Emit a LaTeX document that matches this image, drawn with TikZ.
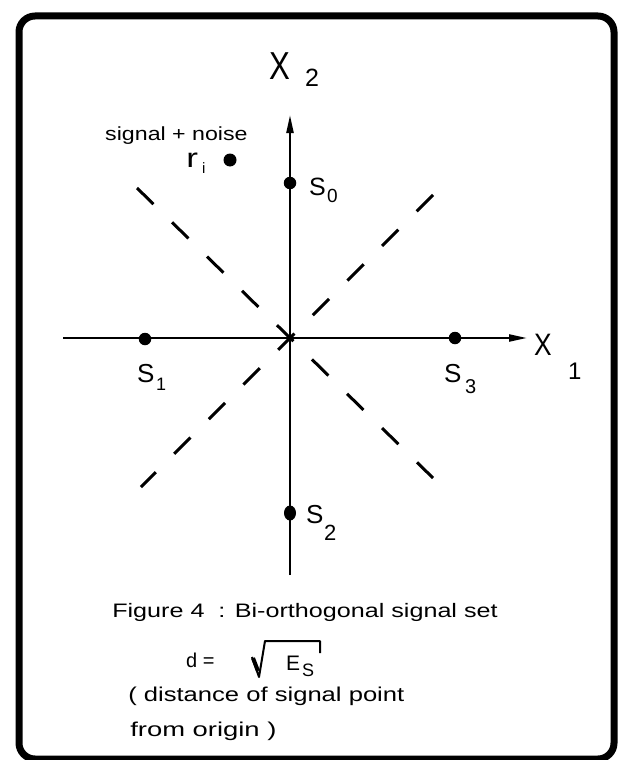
\documentclass[tikz,border=0pt]{standalone}
\usepackage{fontspec}
\setmainfont{Liberation Sans}
\usetikzlibrary{arrows.meta,shapes.geometric}
\newcommand\fsz[1]{\fontsize{#1}{#1}\selectfont}
\begin{document}
\begin{tikzpicture}[x=1pt,y=-1pt,
  lbl/.style={inner sep=0pt, anchor=base west},
  dot/.style={circle, fill=black, inner sep=0pt, minimum size=12.5pt},
  axis/.style={line width=2.2pt, -{Triangle[length=18pt,width=7pt]}},
  dashline/.style={line width=3pt, dash pattern=on 23pt off 26pt},
  frame/.style={line width=7pt, rounded corners=16pt},
  radical/.style={line width=2pt, line join=round}]
\useasboundingbox (0,0) rectangle (624,760);
\draw[frame] (19,16) rectangle (614,759);
% axes
\coordinate (xl) at (63,338);
\coordinate (xr) at (527,338);
\coordinate (yb) at (290,575);
\coordinate (yt) at (290,115);
\draw[axis] (xl) -- (xr);
\draw[axis] (yb) -- (yt);
% dashed decision boundaries
\coordinate (d1a) at (137,188);
\coordinate (d1b) at (433,478);
\coordinate (d2a) at (433,195);
\coordinate (d2b) at (141,487);
\draw[dashline] (d1a) -- (d1b);
\draw[dashline] (d2a) -- (d2b);
% signal points
\node[dot] (s0) at (290,183) {};
\node[dot] (s1) at (145,339) {};
\node[dot] (s3) at (455,338) {};
\node[dot, ellipse, minimum height=15pt, minimum width=12pt] (s2) at (290,513) {};
\node[dot, minimum size=13pt] (ri) at (230,160) {};
% axis labels
\node[lbl, font=\fsz{39}, xscale=0.8] (x2) at (269,80) {X};
\node[lbl, font=\fsz{25}] (x2s) at (305,86) {2};
\node[lbl, font=\fsz{31}, xscale=0.85] (x1) at (534,355) {X};
\node[lbl, font=\fsz{24}] (x1s) at (568,379) {1};
% point labels
\node[lbl, font=\fsz{25}] (s0l) at (309,195) {S};
\node[lbl, font=\fsz{19}] (s0s) at (327,202) {0};
\node[lbl, font=\fsz{26}] (s1l) at (137,382) {S};
\node[lbl, font=\fsz{18}] (s1s) at (156,390) {1};
\node[lbl, font=\fsz{26}] (s3l) at (444,382) {S};
\node[lbl, font=\fsz{20}] (s3s) at (465,393) {3};
\node[lbl, font=\fsz{26}] (s2l) at (306,523) {S};
\node[lbl, font=\fsz{22}] (s2s) at (324,540) {2};
\node[lbl, font=\fsz{27}, xscale=1.3] (rl) at (186,167) {r};
\node[lbl, font=\fsz{15}] (rs) at (202,173) {i};
\node[lbl, font=\fsz{19}, xscale=1.22] (noise) at (105,140) {signal + noise};
% caption
\node[lbl, font=\fsz{19.5}, xscale=1.29] (cap) at (112,617) {Figure 4\ \ : Bi-orthogonal signal set};
\node[lbl, font=\fsz{20}] (deq) at (186,667) {d =};
\draw[radical] (252,657) -- (259,677) -- (265,641) -- (320,641) -- (320,653);
\draw[line width=4pt] (253,658) -- (258,671);
\node[lbl, font=\fsz{21}] (es) at (286,670) {E};
\node[lbl, font=\fsz{18}] (ess) at (302,676) {S};
\node[lbl, font=\fsz{20}, xscale=1.28] (dist1) at (128,701) {( distance of signal point};
\node[lbl, font=\fsz{20}, xscale=1.37] (dist2) at (130,736) {from origin )};
\end{tikzpicture}
\end{document}
